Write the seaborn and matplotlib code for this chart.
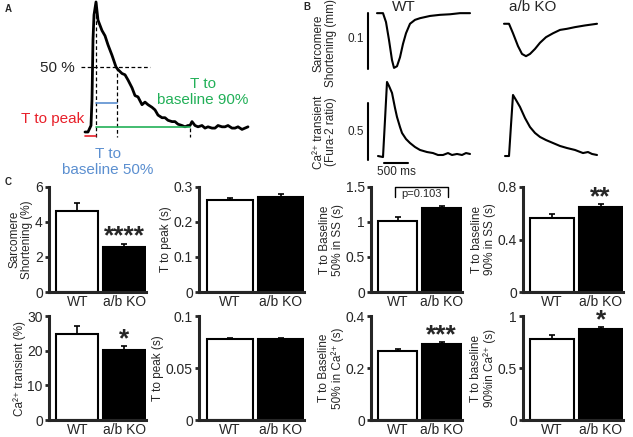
import matplotlib
matplotlib.use("Agg")
import matplotlib.pyplot as plt
import seaborn as sns

# ---- panel A: example Ca transient (ms, fraction of peak)
a_time = [0, 30, 60, 70, 80, 90, 110, 130, 170, 200, 230, 270, 310, 330, 370, 400, 430, 470,
          500, 530, 570, 600, 630, 670, 700, 730, 770, 800, 830, 870, 900, 930, 970, 1000,
          1030, 1050, 1070, 1100, 1130, 1170, 1200, 1230, 1270, 1300, 1330, 1370, 1400,
          1430, 1470, 1500, 1530, 1570, 1600, 1630]
a_signal = [0, 0, 0.05, 0.25, 0.71, 0.90, 1.0, 0.86, 0.78, 0.74, 0.67, 0.59, 0.50, 0.48,
            0.45, 0.44, 0.40, 0.34, 0.28, 0.27, 0.21, 0.23, 0.21, 0.19, 0.17, 0.13, 0.11,
            0.11, 0.09, 0.08, 0.08, 0.06, 0.05, 0.04, 0.05, 0.05, 0.08, 0.05, 0.04, 0.05,
            0.03, 0.04, 0.03, 0.03, 0.05, 0.04, 0.04, 0.05, 0.03, 0.03, 0.04, 0.02, 0.03, 0.04]
t_peak = 110
t_half = 320
t_base90 = 1050

# ---- panel B: representative traces
ss_wt_t = [0, 126, 189, 252, 315, 357, 420, 483, 546, 609, 693, 798, 903, 1113, 1323, 1533, 1743, 1953]
ss_wt = [0.100, 0.100, 0.084, 0.052, 0.016, 0.002, 0.005, 0.021, 0.045, 0.064, 0.081, 0.088,
         0.091, 0.095, 0.097, 0.098, 0.100, 0.100]
ss_ko_t = [0, 105, 189, 294, 378, 462, 546, 651, 756, 882, 1029, 1176, 1323, 1491, 1701, 1953]
ss_ko = [0.081, 0.081, 0.064, 0.041, 0.027, 0.023, 0.027, 0.036, 0.047, 0.057, 0.064, 0.070,
         0.072, 0.075, 0.078, 0.081]
ca_wt_t = [21, 126, 168, 210, 252, 315, 378, 420, 483, 525, 609, 693, 798, 903, 1050, 1176,
           1281, 1386, 1491, 1575, 1680, 1785, 1869, 1953]
ca_wt = [0.035, 0.026, 0.351, 0.684, 0.649, 0.588, 0.456, 0.377, 0.289, 0.237, 0.184, 0.149,
         0.114, 0.088, 0.070, 0.061, 0.044, 0.044, 0.061, 0.044, 0.053, 0.044, 0.061, 0.053]
ca_ko_t = [21, 105, 147, 189, 252, 336, 441, 546, 651, 756, 882, 1029, 1176, 1323, 1491, 1659,
           1764, 1848, 1953]
ca_ko = [0.035, 0.035, 0.307, 0.570, 0.526, 0.465, 0.368, 0.289, 0.237, 0.202, 0.175, 0.149,
         0.123, 0.105, 0.088, 0.061, 0.070, 0.053, 0.044]

# ---- panel C: means and SEM (WT, a/b KO)
groups = ["WT", "a/b KO"]
ss_amp, ss_amp_err = [4.61, 2.57], [0.48, 0.19]
ss_ttp, ss_ttp_err = [0.262, 0.272], [0.008, 0.007]
ss_t50, ss_t50_err = [1.01, 1.20], [0.056, 0.033]
ss_t90, ss_t90_err = [0.566, 0.649], [0.026, 0.02]
ca_amp, ca_amp_err = [24.9, 20.3], [2.1, 1.0]
ca_ttp, ca_ttp_err = [0.0777, 0.0783], [0.0013, 0.001]
ca_t50, ca_t50_err = [0.266, 0.2916], [0.009, 0.008]
ca_t90, ca_t90_err = [0.783, 0.872], [0.032, 0.023]

W, H = 633, 437
sns.set_theme(style="ticks")
plt.rcParams["font.family"] = ["Liberation Sans", "DejaVu Sans"]
fig = plt.figure(figsize=(W / 100, H / 100), dpi=100)


def px_axes(left, top, right, bottom):
    return fig.add_axes([left / W, 1 - bottom / H, (right - left) / W, (bottom - top) / H])


def ftext(x, y, s, **kw):
    fig.text(x / W, 1 - y / H, s, **kw)


# ---------------- A
ax = px_axes(0, 0, 320, 180)
ax.set_xlim(-850, 2350)
ax.set_ylim(-0.369, 1.015)
ax.axis("off")
sns.lineplot(x=a_time, y=a_signal, ax=ax, color="black", lw=2, sort=False, estimator=None)
dash = dict(color="black", lw=0.9, ls=(0, (3, 2)))
ax.plot([-40, 650], [0.5, 0.5], **dash)
ax.plot([t_peak, t_peak], [1.0, -0.04], **dash)
ax.plot([t_half, t_half], [0.5, -0.04], **dash)
ax.plot([t_base90, t_base90], [0.03, -0.04], **dash)
ax.plot([0, t_peak], [-0.03, -0.03], color="#e8202a", lw=1.2)
ax.plot([t_peak, t_half], [0.22, 0.22], color="#5b8fd0", lw=1.2)
ax.plot([t_peak, t_base90], [0.04, 0.04], color="#22b058", lw=1.2)
ax.text(-100, 0.49, "50 %", ha="right", va="center", fontsize=11)
ax.text(-320, 0.10, "T to peak", ha="center", va="center", fontsize=11, color="#e8202a")
ax.text(230, -0.23, "T to\nbaseline 50%", ha="center", va="center", fontsize=11,
        color="#5b8fd0", linespacing=1.15)
ax.text(1180, 0.31, "T to\nbaseline 90%", ha="center", va="center", fontsize=11,
        color="#22b058", linespacing=1.15)
ftext(5, 9, "A", fontsize=7, fontweight="bold", va="center")

# ---------------- B
ss_ylim = (-0.0107, 0.1146)
ca_ylim = (-0.070, 0.745)
b_axes = {}
for key, left, top, bottom, ylim, t, y in [
    ("ss_wt", 372, 5, 75, ss_ylim, ss_wt_t, ss_wt),
    ("ss_ko", 499, 5, 75, ss_ylim, ss_ko_t, ss_ko),
    ("ca_wt", 372, 75, 168, ca_ylim, ca_wt_t, ca_wt),
    ("ca_ko", 499, 75, 168, ca_ylim, ca_ko_t, ca_ko),
]:
    bx = px_axes(left, top, left + 100, bottom)
    bx.set_xlim(-105, 1995)
    bx.set_ylim(*ylim)
    bx.axis("off")
    sns.lineplot(x=t, y=y, ax=bx, color="black", lw=1.5, sort=False, estimator=None)
    b_axes[key] = bx

bx = b_axes["ss_wt"]
bx.plot([-189, -189], [0, 0.1], color="black", lw=1.5, clip_on=False)
bx.text(-273, 0.054, "0.1", ha="right", va="center", fontsize=8.5)
bx = b_axes["ca_wt"]
bx.plot([-189, -189], [0, 0.5], color="black", lw=1.5, clip_on=False)
bx.text(-273, 0.246, "0.5", ha="right", va="center", fontsize=8.5)
bx.plot([150, 650], [-0.026, -0.026], color="black", lw=1.5, clip_on=False)
bx.text(400, -0.105, "500 ms", ha="center", va="center", fontsize=8.5)

ftext(404, 7, "WT", ha="center", va="center", fontsize=11)
ftext(533, 7, "a/b KO", ha="center", va="center", fontsize=11)
ftext(325, 43, "Sarcomere\nShortening (mm)", rotation=90, ha="center", va="center",
      fontsize=8.5, multialignment="center", linespacing=1.1)
ftext(325, 132, "Ca²⁺ transient\n(Fura-2 ratio)", rotation=90, ha="center", va="center",
      fontsize=8.5, multialignment="center", linespacing=1.1)
ftext(303, 7, "B", fontsize=7, fontweight="bold", va="center")

# ---------------- C
ftext(5, 182, "C", fontsize=7, fontweight="bold", va="center")
cols = [(49, 146), (199, 304), (371, 462), (523, 623)]
rows = [(187, 292), (316, 420)]
panels = [
    (0, 0, ss_amp, ss_amp_err, [0, 2, 4, 6], "Sarcomere\nShortening (%)", "****"),
    (0, 1, ss_ttp, ss_ttp_err, [0, 0.1, 0.2, 0.3], "T to peak (s)", ""),
    (0, 2, ss_t50, ss_t50_err, [0, 0.5, 1, 1.5], "T to Baseline\n50% in SS (s)", ""),
    (0, 3, ss_t90, ss_t90_err, [0, 0.4, 0.8], "T to baseline\n90% in SS (s)", "**"),
    (1, 0, ca_amp, ca_amp_err, [0, 10, 20, 30], "Ca²⁺ transient (%)", "*"),
    (1, 1, ca_ttp, ca_ttp_err, [0, 0.05, 0.1], "T to peak (s)", ""),
    (1, 2, ca_t50, ca_t50_err, [0, 0.2, 0.4], "T to Baseline\n50% in Ca²⁺ (s)", "***"),
    (1, 3, ca_t90, ca_t90_err, [0, 0.5, 1], "T to baseline\n90%in Ca²⁺ (s)", "*"),
]
for r, c, means, errs, ticks, label, star in panels:
    cx = px_axes(cols[c][0], rows[r][0], cols[c][1], rows[r][1])
    sns.barplot(x=groups, y=means, hue=groups, palette=["white", "black"], edgecolor="black",
                linewidth=1.5, width=0.9, legend=False, ax=cx)
    cx.errorbar([0, 1], means, yerr=[[0, 0], errs], fmt="none", ecolor="black",
                elinewidth=1.2, capsize=2.5, capthick=1.2)
    cx.set_xlim(-0.6, 1.46)
    cx.set_ylim(0, ticks[-1])
    cx.set_yticks(ticks)
    cx.set_yticklabels(["{:g}".format(v) for v in ticks], fontsize=10)
    cx.tick_params(axis="x", length=0, labelsize=10, pad=2.5)
    cx.tick_params(axis="y", length=3, width=2, pad=1.5)
    cx.set_ylabel(label, fontsize=8.5, linespacing=1.1, labelpad=1)
    cx.set_xlabel("")
    sns.despine(ax=cx)
    for side in ["left", "bottom"]:
        cx.spines[side].set_linewidth(2.2)
    if star:
        cx.annotate(star, (1, means[1] + errs[1]), xytext=(0, 5), textcoords="offset points",
                    ha="center", va="center", fontsize=19, fontweight="bold",
                    annotation_clip=False)
    if r == 0 and c == 2:
        cx.plot([-0.05, -0.05, 1.15, 1.15], [1.36, 1.5, 1.5, 1.36], color="black",
                lw=1, clip_on=False)
        cx.text(0.55, 1.475, "p=0.103", ha="center", va="top", fontsize=8)

fig.savefig("out.png", dpi=100)
